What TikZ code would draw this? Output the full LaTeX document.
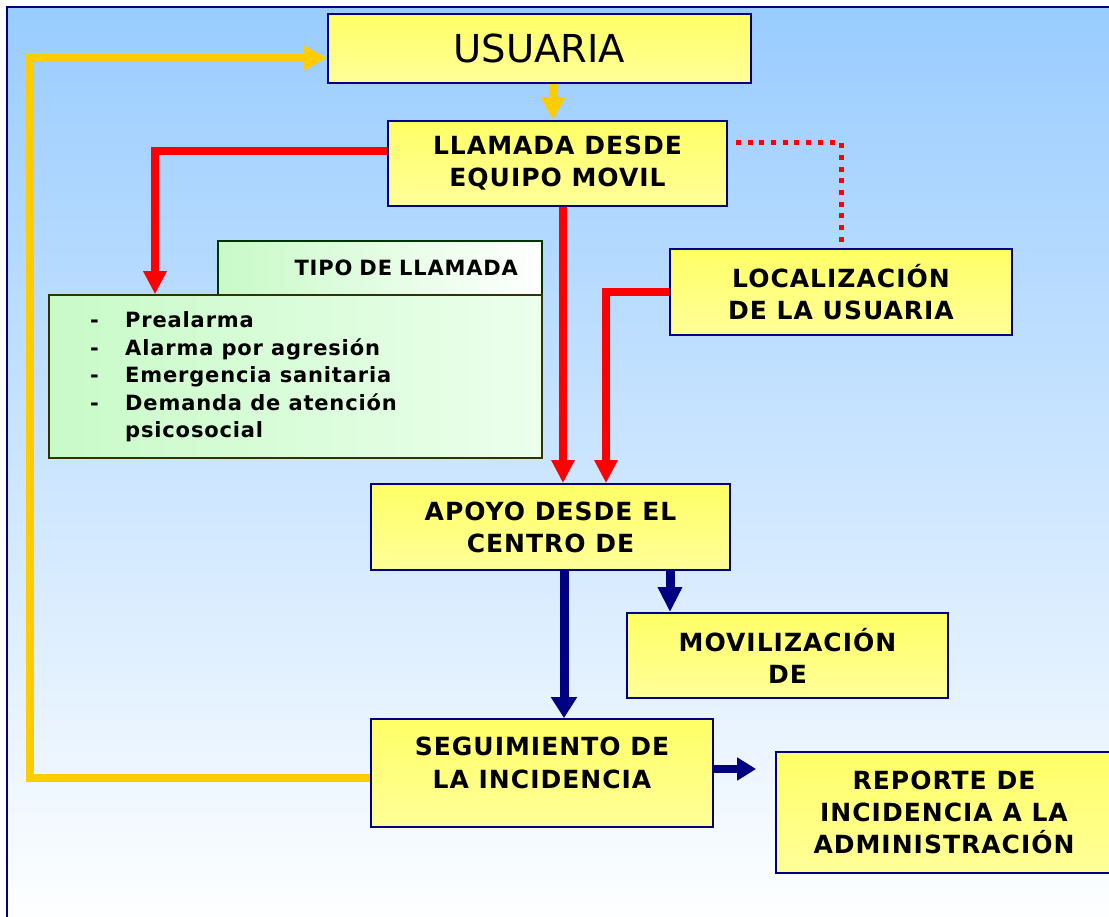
\documentclass[tikz,border=0pt]{standalone}
\usepackage{fontspec}
\setmainfont{DejaVu Sans}
\newfontfamily\bsp[LetterSpace=4]{DejaVu Sans}
\usetikzlibrary{arrows.meta}
\definecolor{navy}{RGB}{0,0,128}
\definecolor{bgtop}{RGB}{153,204,255}
\definecolor{ytop}{RGB}{255,255,102}
\definecolor{ybot}{RGB}{255,255,153}
\definecolor{gold}{RGB}{255,204,0}
\definecolor{gtop}{RGB}{200,250,200}
\definecolor{gbot}{RGB}{236,255,236}
\definecolor{olive}{RGB}{51,51,0}
\definecolor{dgreen}{RGB}{0,51,0}
\begin{document}
\begin{tikzpicture}[x=1pt,y=-1pt,
  ybox/.style={draw=navy, line width=1.8pt, top color=ytop, bottom color=ybot,
    inner sep=0pt, align=center, font=\bsp\bfseries\fontsize{25}{32}\selectfont},
  btext/.style={inner sep=0pt, align=center, font=\bsp\bfseries\fontsize{25}{33}\selectfont},
  goldarr/.style={draw=gold, line width=8pt, -{Triangle[length=23pt,width=23pt]}},
  redarr/.style={draw=red, line width=8pt, -{Triangle[length=23pt,width=22pt]}},
  reddot/.style={draw=red, line width=5pt, dash pattern=on 5pt off 6.7pt},
  navarr/.style={draw=navy, line width=9pt, -{Triangle[length=21pt,width=25pt]}},
  navarrb/.style={draw=navy, line width=9pt, -{Triangle[length=25pt,width=23pt]}},
  navarrc/.style={draw=navy, line width=8pt, -{Triangle[length=19pt,width=22pt]}}]
\useasboundingbox (0,0) rectangle (1109,917);
\clip (0,0) rectangle (1109,917);
% background and frame
\shade[top color=bgtop, bottom color=white] (7,6.7) rectangle (1120,930);
\draw[navy, line width=2.2pt] (7,930) -- (7,6.7) -- (1120,6.7);

% boxes
\node[ybox, minimum width=423pt, minimum height=69pt, font=\fontsize{38.5}{40}\selectfont] (usu) at (539.5,48.5) {USUARIA};
\node[ybox, minimum width=339pt, minimum height=85pt] (llam) at (557.5,163.5) {LLAMADA DESDE\\EQUIPO MOVIL};
\node[ybox, minimum width=342pt, minimum height=86pt] (loc) at (841,292) {LOCALIZACIÓN\\DE LA USUARIA};
\node[draw=dgreen, line width=1.5pt, left color=gtop, right color=white, minimum width=324pt, minimum height=54pt,
  text width=276pt, align=right, inner sep=0pt, font=\bsp\bfseries\fontsize{21}{25}\selectfont] (tab) at (380,268) {TIPO DE LLAMADA};
\node[draw=olive, line width=1.5pt, left color=gtop, right color=gbot, minimum width=493pt, minimum height=163pt, inner sep=0pt] (list) at (295.5,376.5) {};
\node[anchor=base west, inner sep=0pt, font=\bsp\bfseries\fontsize{21}{27.5}\selectfont] (listt) at (90,328)
  {\begin{tabular}[t]{@{}p{35pt}@{}l@{}}-&Prealarma\\-&Alarma por agresión\\-&Emergencia sanitaria\\-&Demanda de atención\\&psicosocial\end{tabular}};
\node[ybox, minimum width=359pt, minimum height=86pt] (apoyo) at (550.5,527) {APOYO DESDE EL\\CENTRO DE};
\node[ybox, minimum width=321pt, minimum height=85pt] (mov) at (787.5,655.5) {MOVILIZACIÓN\\DE};
\node[ybox, minimum width=342pt, minimum height=108pt] (seg) at (542,773) {};
\node[btext] (segt) at (542,763) {SEGUIMIENTO DE\\LA INCIDENCIA};
\node[ybox, minimum width=336pt, minimum height=121pt] (rep) at (944,812.5) {REPORTE DE\\INCIDENCIA A LA\\ADMINISTRACIÓN};

% connectors
\coordinate (yc1) at (30,778);
\coordinate (yc2) at (30,58);
\draw[goldarr] ([xshift=13.5pt]usu.south) -- ([xshift=-4.5pt]llam.north);
\draw[goldarr] ([yshift=-5pt]seg.west) -- (yc1) -- (yc2) -- ([yshift=-9.5pt]usu.west);
\draw[redarr] ([yshift=12pt]llam.west) -| ([xshift=-140.5pt]list.north);
\draw[redarr] ([xshift=5.5pt]llam.south) -- ([xshift=12.5pt]apoyo.north);
\draw[redarr] (loc.west) -| ([xshift=55.5pt]apoyo.north);
\draw[reddot] ([xshift=8pt,yshift=20.5pt]llam.east) -| (loc.north);
\draw[navarr] ([xshift=13.5pt]apoyo.south) -- ([xshift=22pt]seg.north);
\draw[navarrb] ([xshift=119.5pt]apoyo.south) -- ([xshift=-117.5pt]mov.north);
\draw[navarrc] ([yshift=4pt]seg.east) -- ([xshift=-19pt,yshift=43.5pt]rep.west);
\end{tikzpicture}
\end{document}
